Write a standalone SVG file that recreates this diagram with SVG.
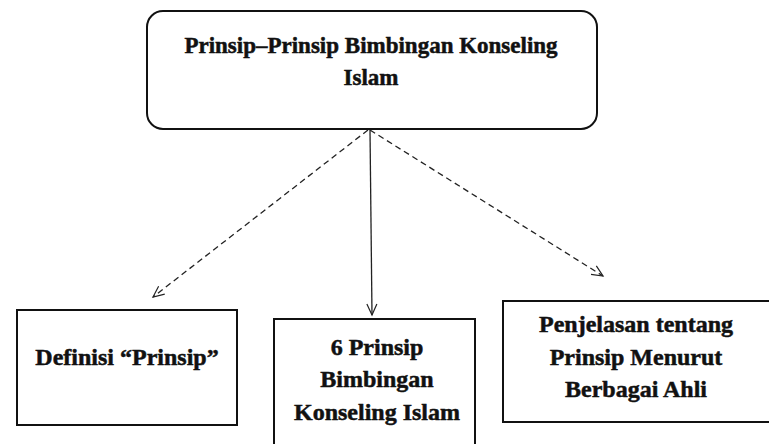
<svg xmlns="http://www.w3.org/2000/svg" width="769" height="444" viewBox="0 0 769 444">
<style>
.box{fill:#fff;stroke:#111;stroke-width:2}
.t{font-family:"Liberation Serif","Times New Roman",serif;font-weight:bold;fill:#111;stroke:#111;stroke-width:0.5;text-anchor:middle}
.c{fill:none;stroke:#222;stroke-width:1.3}
.d{stroke-dasharray:6 4}
</style>
<defs>
<marker id="ah" markerWidth="14" markerHeight="14" refX="12" refY="7" orient="auto" markerUnits="userSpaceOnUse">
<path d="M1,2 L12,7 L1,12" fill="none" stroke="#222" stroke-width="1.2"/>
</marker>
</defs>
<rect width="769" height="444" fill="#fff"/>
<g id="connectors">
<line class="c d" x1="368" y1="130" x2="153" y2="297" marker-end="url(#ah)"/>
<line class="c" x1="370" y1="130" x2="372" y2="315" marker-end="url(#ah)"/>
<line class="c d" x1="370" y1="130" x2="603" y2="276" marker-end="url(#ah)"/>
</g>
<g id="top">
<rect class="box" x="147" y="11" width="450" height="118" rx="16"/>
<text class="t" font-size="23" x="371" y="53">Prinsip–Prinsip Bimbingan Konseling</text>
<text class="t" font-size="23" x="371" y="85">Islam</text>
</g>
<g id="definisi">
<rect class="box" x="17" y="310" width="220" height="115"/>
<text class="t" font-size="24" x="127" y="365">Definisi “Prinsip”</text>
</g>
<g id="enam">
<rect class="box" x="274" y="319" width="201" height="135"/>
<text class="t" font-size="24" x="377" y="355">6 Prinsip</text>
<text class="t" font-size="24" x="377" y="387">Bimbingan</text>
<text class="t" font-size="24" x="377" y="420">Konseling Islam</text>
</g>
<g id="penjelasan">
<rect class="box" x="503" y="301" width="280" height="121"/>
<text class="t" font-size="24" x="636" y="332">Penjelasan tentang</text>
<text class="t" font-size="24" x="636" y="365">Prinsip Menurut</text>
<text class="t" font-size="24" x="636" y="397">Berbagai Ahli</text>
</g>
</svg>
